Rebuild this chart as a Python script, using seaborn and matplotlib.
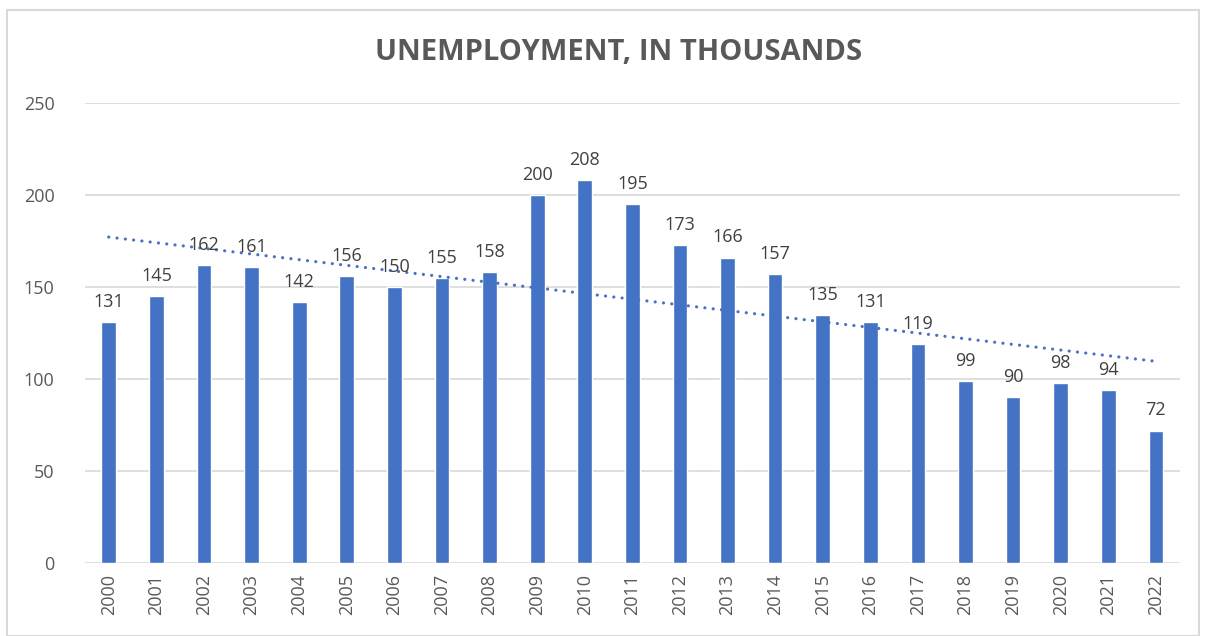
import numpy as np
import pandas as pd
import matplotlib
matplotlib.use("Agg")
import matplotlib.pyplot as plt
import seaborn as sns
from matplotlib.patches import Rectangle

# --- Data ---
years = [str(y) for y in range(2000, 2023)]
unemployment = [131, 145, 162, 161, 142, 156, 150, 155, 158, 200, 208, 195,
                173, 166, 157, 135, 131, 119, 99, 90, 98, 94, 72]
y_ticks = [0, 50, 100, 150, 200, 250]

BAR_COLOR = "#4472C4"
TEXT_COLOR = "#595959"
GRID_COLOR = "#D9D9D9"

sns.set_theme(style="white")
plt.rcParams["font.family"] = ["Open Sans", "DejaVu Sans"]

df = pd.DataFrame({"year": years, "value": unemployment})

fig = plt.figure(figsize=(12.05, 6.36), dpi=100)
ax = fig.add_axes([0.0705, 0.1148, 0.9085, 0.7233])

sns.barplot(data=df, x="year", y="value", color=BAR_COLOR, width=0.31,
            saturation=1, ax=ax, zorder=3)

# linear trendline like Excel
xs = np.arange(len(years))
coef = np.polyfit(xs, unemployment, 1)
ax.plot(xs, np.polyval(coef, xs), linestyle=(0, (0.01, 2.6)), color=BAR_COLOR,
        linewidth=2.3, dash_capstyle="round", zorder=4)

# value labels
for i, v in enumerate(unemployment):
    ax.text(i, v + 6, str(v), ha="center", va="bottom", fontsize=13,
            color="#404040", zorder=5)

ax.set_ylim(0, 250)
ax.set_xlim(-0.5, len(years) - 0.5)
ax.set_yticks(y_ticks)
ax.yaxis.grid(True, color=GRID_COLOR, linewidth=1.2, zorder=0)
ax.set_axisbelow(True)
for s in ax.spines.values():
    s.set_visible(False)
ax.tick_params(axis="y", length=0, labelsize=13, labelcolor=TEXT_COLOR, pad=22)
ax.tick_params(axis="x", length=0, labelsize=13, labelcolor=TEXT_COLOR,
               rotation=90, pad=8)
ax.set_xlabel("")
ax.set_ylabel("")

fig.text(0.513, 0.918, "UNEMPLOYMENT, IN THOUSANDS", ha="center", va="center",
         fontsize=21, fontweight="bold", color=TEXT_COLOR)

# light border round the chart
fig.patches.append(Rectangle((0.006, 0.0), 0.989, 0.985, transform=fig.transFigure,
                             fill=False, edgecolor=GRID_COLOR, linewidth=1.5))

fig.savefig("out.png", dpi=100, facecolor="white")
